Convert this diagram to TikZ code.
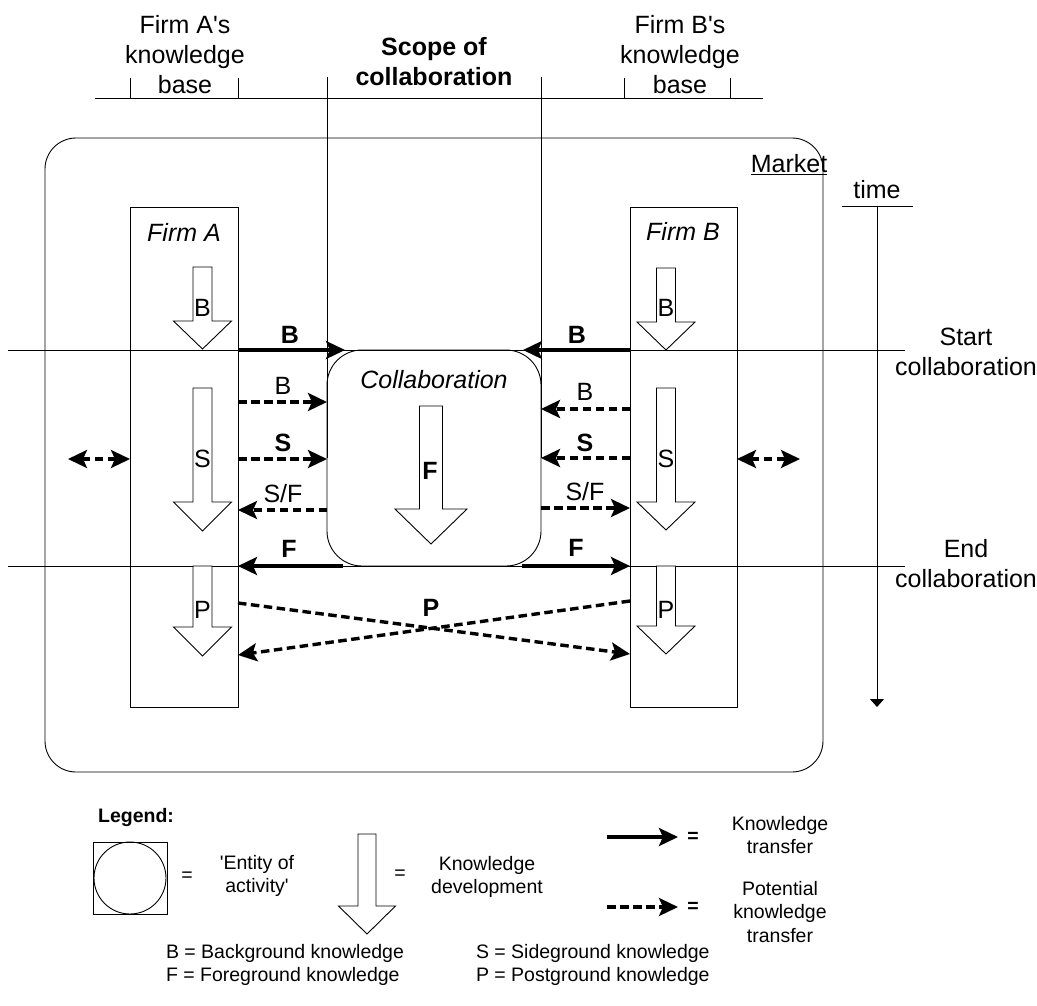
\documentclass[tikz,border=0pt]{standalone}
\usepackage{fontspec}
\setmainfont{Liberation Sans}
\newfontfamily\rawsans{Liberation Sans}
\usetikzlibrary{arrows.meta}

% knowledge-development arrow: centre x, top, head start, tip, half shaft, half head
\newcommand\kdarrow[6]{%
  \draw[thinrule, fill=white, line join=miter]
    (#1-#5,#2) -- (#1+#5,#2) -- (#1+#5,#3) -- (#1+#6,#3) -- (#1,#4)
    -- (#1-#6,#3) -- (#1-#5,#3) -- cycle;}

\begin{document}
\begin{tikzpicture}[x=1pt,y=-1pt,
  every node/.style={inner sep=0pt, outer sep=0pt},
  big/.style={font=\rawsans\fontsize{25}{30}\selectfont, align=center},
  small/.style={font=\rawsans\fontsize{19.5}{23.5}\selectfont, align=center},
  thinrule/.style={line width=0.9pt},
  frame/.style={draw, line width=0.9pt},
  headtip/.style={-{Stealth[length=19pt,width=18pt,inset=4pt]}},
  transfer/.style={line width=3.6pt, headtip},
  potential/.style={line width=3.4pt, dash pattern=on 8.5pt off 4.5pt, headtip},
  potboth/.style={line width=3.4pt, dash pattern=on 8.5pt off 4.5pt,
    {Stealth[length=19pt,width=18pt,inset=4pt]}-{Stealth[length=19pt,width=18pt,inset=4pt]}},
]
\useasboundingbox (0,0) rectangle (1037,1005);

% ---------- header ----------
\node[big] (hA) at (185,55) {Firm A's\\knowledge\\base};
\node[big] (hS) at (434,62) {\bfseries Scope of\\\bfseries collaboration};
\node[big] (hB) at (680,55) {Firm B's\\knowledge\\base};
\draw[thinrule] (95,98) -- (763,98);
\draw[thinrule] (130,78) -- (130,98);
\draw[thinrule] (238,78) -- (238,98);
\draw[thinrule] (624,78) -- (624,98);
\draw[thinrule] (730,78) -- (730,98);

% ---------- market and entities ----------
\node[frame, rounded corners=31pt, minimum width=778pt, minimum height=634pt] (market) at (434,455) {};
\node[big] (mlabel) at (789,165) {\underline{Market}};

\node[frame, minimum width=108pt, minimum height=500pt] (fa) at (184,457) {};
\node[frame, minimum width=107pt, minimum height=500pt] (fb) at (683.5,457) {};
\node[frame, rounded corners=35pt, minimum width=214pt, minimum height=216pt] (co) at (434,458) {};

\node[big] (faname) at (184,232) {\itshape Firm A};
\node[big] (fbname) at (683,231) {\itshape Firm B};
\node[big] (coname) at (434,380) {\itshape Collaboration};

% scope of collaboration boundaries
\coordinate (ytop) at (0,77);
\draw[thinrule] (co.north west |- ytop) -- (co.west);
\draw[thinrule] (co.north east |- ytop) -- (co.east);

% start and end of collaboration
\coordinate (s0) at (8,350);
\coordinate (s1) at (905,350);
\coordinate (e0) at (8,566);
\coordinate (e1) at (905,566);
\draw[thinrule] (s0) -- (s1);
\draw[thinrule] (e0) -- (e1);
\node[big] (startlbl) at (966,352) {Start\\collaboration};
\node[big] (endlbl) at (966,564) {End\\collaboration};

% time axis
\coordinate (t0) at (842,206);
\coordinate (t1) at (913,206);
\coordinate (ta) at (877,206);
\coordinate (tb) at (877,707);
\draw[thinrule] (t0) -- (t1);
\draw[thinrule, -{Triangle[length=8pt,width=14pt]}] (ta) -- (tb);
\node[big] (timelbl) at (877,190) {time};

% ---------- knowledge development ----------
\kdarrow{202.5}{267}{321}{349}{9.5}{29}
\kdarrow{202.5}{388}{502}{531}{9.5}{29}
\kdarrow{202.5}{566}{627}{656}{9.5}{29}
\kdarrow{666}{268}{322}{350}{9.5}{29}
\kdarrow{666}{388}{502}{530}{9.5}{29}
\kdarrow{666}{566}{626}{654}{9.5}{29}
\kdarrow{431}{406}{509}{544}{11.5}{36}

\node[big] (aB) at (202.5,308) {B};
\node[big] (aS) at (202.5,459) {S};
\node[big] (aP) at (202.5,610) {P};
\node[big] (bB) at (666,308) {B};
\node[big] (bS) at (666,459) {S};
\node[big] (bP) at (666,610) {P};
\node[big] (cF) at (430,471) {\bfseries F};

% ---------- knowledge transfer ----------
\draw[transfer] (fa.east |- s0) -- ([xshift=18pt]co.north west);
\draw[transfer] (fb.west |- s0) -- ([xshift=-18pt]co.north east);
\draw[transfer] ([xshift=16pt]co.south west) -- (fa.east |- co.south);
\draw[transfer] ([xshift=-19pt]co.south east) -- (fb.west |- co.south);
\node[big] (lB1) at (290,335) {\bfseries B};
\node[big] (rB1) at (577,335) {\bfseries B};
\node[big] (lF1) at (289,549) {\bfseries F};
\node[big] (rF1) at (576,548) {\bfseries F};

% potential transfer into and out of the collaboration
\coordinate (ra1) at (0,402);
\coordinate (ra2) at (0,459);
\coordinate (ra3) at (0,510);
\coordinate (rb1) at (0,409);
\coordinate (rb2) at (0,458);
\coordinate (rb3) at (0,508);
\draw[potential] (fa.east |- ra1) -- (co.west |- ra1);
\draw[potential] (fa.east |- ra2) -- (co.west |- ra2);
\draw[potential] (co.west |- ra3) -- (fa.east |- ra3);
\draw[potential] (fb.west |- rb1) -- (co.east |- rb1);
\draw[potential] (fb.west |- rb2) -- (co.east |- rb2);
\draw[potential] (co.east |- rb3) -- (fb.west |- rb3);
\node[big] (lB2) at (283,386) {B};
\node[big] (lS2) at (283,443) {\bfseries S};
\node[big] (lSF) at (283,494) {S/F};
\node[big] (rB2) at (585,392) {B};
\node[big] (rS2) at (585,443) {\bfseries S};
\node[big] (rSF) at (585,492) {S/F};

% postground exchange after the collaboration
\coordinate (p1) at (0,603);
\coordinate (p2) at (0,654);
\coordinate (p3) at (0,601);
\coordinate (p4) at (0,655);
\draw[potential] (fa.east |- p1) -- (fb.west |- p2);
\draw[potential] (fb.west |- p3) -- (fa.east |- p4);
\node[big] (pP) at (431,608) {\bfseries P};

% exchange with the market
\coordinate (xl) at (68,459);
\coordinate (xr) at (800,459);
\draw[potboth] (xl) -- (fa.west |- xl);
\draw[potboth] (fb.east |- xr) -- (xr);

% ---------- legend ----------
\node[small] (leg) at (136,817) {\bfseries Legend:};
\node[frame, minimum width=74pt, minimum height=72pt] (lsq) at (130,878) {};
\node[frame, circle, minimum size=72pt] (lci) at (130,878) {};
\node[small] (eq1) at (187,877) {=};
\node[small] (ent) at (257,876) {'Entity of\\activity'};

\kdarrow{367}{834}{906}{934}{9}{28.5}
\node[small] (eq2) at (400,875) {=};
\node[small] (kdev) at (487,877) {Knowledge\\development};

\coordinate (k1a) at (607,837);
\coordinate (k1b) at (678,837);
\draw[transfer] (k1a) -- (k1b);
\node[small] (eq3) at (693,837) {\bfseries =};
\node[small] (ktr) at (780,835) {Knowledge\\transfer};

\coordinate (k2a) at (607,907);
\coordinate (k2b) at (678,907);
\draw[potential] (k2a) -- (k2b);
\node[small] (eq4) at (693,907) {\bfseries =};
\node[small] (pktr) at (780,912) {Potential\\knowledge\\transfer};

\node[small, anchor=west, align=left] (abbr1) at (166,965) {B = Background knowledge\\F = Foreground knowledge};
\node[small, anchor=west, align=left] (abbr2) at (476,965) {S = Sideground knowledge\\P = Postground knowledge};
\end{tikzpicture}
\end{document}
